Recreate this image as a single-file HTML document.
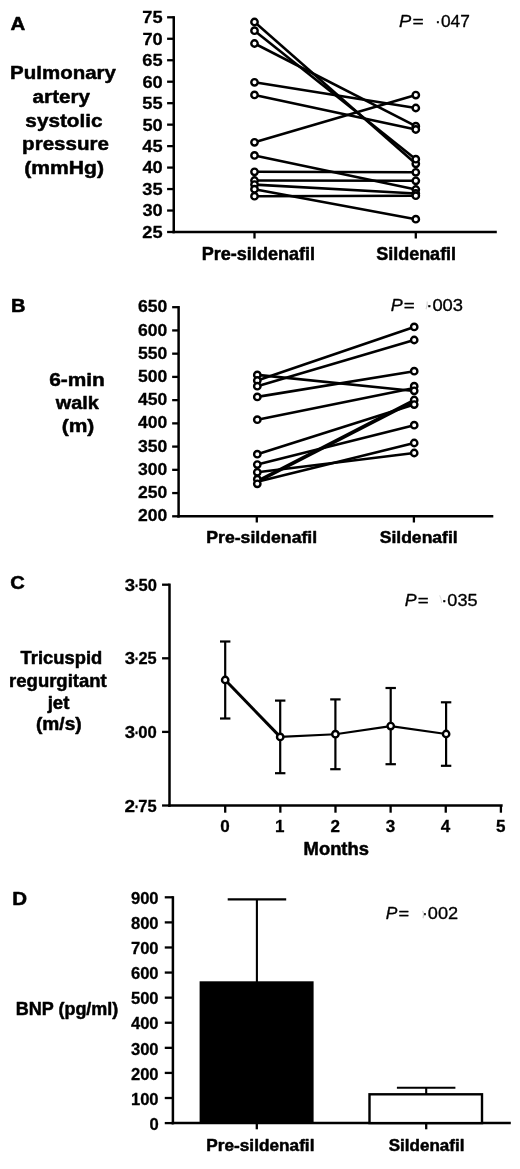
<!DOCTYPE html>
<html><head><meta charset="utf-8"><title>Figure</title>
<style>
html,body{margin:0;padding:0;background:#fff;}
body{width:520px;height:1169px;overflow:hidden;}
svg{display:block;font-family:"Liberation Sans",sans-serif;fill:#000;will-change:transform;filter:blur(0.4px);}
text{stroke:#000;stroke-width:0.5px;stroke-linejoin:round;}
text.r{stroke-width:0.3px;}
text.t{stroke-width:0.28px;}
</style></head><body>
<svg width="520" height="1169" viewBox="0 0 520 1169">
<rect width="520" height="1169" fill="#fff"/>
<line x1="173.75" y1="16.15" x2="173.75" y2="233.25" stroke="#000" stroke-width="2.5" />
<line x1="167.10" y1="17.30" x2="173.75" y2="17.30" stroke="#000" stroke-width="2.3" />
<text transform="translate(142.28,23.19) scale(1.0577,1)" font-size="17.26" font-weight="bold" font-style="normal"  class="t">75</text>
<line x1="167.10" y1="38.77" x2="173.75" y2="38.77" stroke="#000" stroke-width="2.3" />
<text transform="translate(142.46,44.66) scale(1.0577,1)" font-size="17.26" font-weight="bold" font-style="normal"  class="t">70</text>
<line x1="167.10" y1="60.24" x2="173.75" y2="60.24" stroke="#000" stroke-width="2.3" />
<text transform="translate(142.28,66.13) scale(1.0577,1)" font-size="17.26" font-weight="bold" font-style="normal"  class="t">65</text>
<line x1="167.10" y1="81.71" x2="173.75" y2="81.71" stroke="#000" stroke-width="2.3" />
<text transform="translate(142.46,87.60) scale(1.0577,1)" font-size="17.26" font-weight="bold" font-style="normal"  class="t">60</text>
<line x1="167.10" y1="103.18" x2="173.75" y2="103.18" stroke="#000" stroke-width="2.3" />
<text transform="translate(142.28,109.07) scale(1.0577,1)" font-size="17.26" font-weight="bold" font-style="normal"  class="t">55</text>
<line x1="167.10" y1="124.65" x2="173.75" y2="124.65" stroke="#000" stroke-width="2.3" />
<text transform="translate(142.46,130.54) scale(1.0577,1)" font-size="17.26" font-weight="bold" font-style="normal"  class="t">50</text>
<line x1="167.10" y1="146.12" x2="173.75" y2="146.12" stroke="#000" stroke-width="2.3" />
<text transform="translate(142.28,152.01) scale(1.0577,1)" font-size="17.26" font-weight="bold" font-style="normal"  class="t">45</text>
<line x1="167.10" y1="167.59" x2="173.75" y2="167.59" stroke="#000" stroke-width="2.3" />
<text transform="translate(142.46,173.48) scale(1.0577,1)" font-size="17.26" font-weight="bold" font-style="normal"  class="t">40</text>
<line x1="167.10" y1="189.06" x2="173.75" y2="189.06" stroke="#000" stroke-width="2.3" />
<text transform="translate(142.28,194.95) scale(1.0577,1)" font-size="17.26" font-weight="bold" font-style="normal"  class="t">35</text>
<line x1="167.10" y1="210.53" x2="173.75" y2="210.53" stroke="#000" stroke-width="2.3" />
<text transform="translate(142.46,216.42) scale(1.0577,1)" font-size="17.26" font-weight="bold" font-style="normal"  class="t">30</text>
<line x1="167.10" y1="232.00" x2="173.75" y2="232.00" stroke="#000" stroke-width="2.3" />
<text transform="translate(142.28,237.89) scale(1.0577,1)" font-size="17.26" font-weight="bold" font-style="normal"  class="t">25</text>
<line x1="172.50" y1="232.00" x2="496.80" y2="232.00" stroke="#000" stroke-width="2.5" />
<line x1="254.50" y1="232.00" x2="254.50" y2="238.50" stroke="#000" stroke-width="2.3" />
<line x1="415.80" y1="232.00" x2="415.80" y2="238.50" stroke="#000" stroke-width="2.3" />
<text transform="translate(201.63,260.00) scale(1.0225,1)" font-size="17.68" font-weight="bold" font-style="normal" >Pre-sildenafil</text>
<text transform="translate(376.16,260.00) scale(1.0178,1)" font-size="17.68" font-weight="bold" font-style="normal" >Sildenafil</text>
<line x1="254.50" y1="22.00" x2="415.80" y2="163.80" stroke="#000" stroke-width="2.6" />
<line x1="254.50" y1="30.70" x2="415.80" y2="159.20" stroke="#000" stroke-width="2.6" />
<line x1="254.50" y1="43.50" x2="415.80" y2="126.20" stroke="#000" stroke-width="2.6" />
<line x1="254.50" y1="82.30" x2="415.80" y2="108.00" stroke="#000" stroke-width="2.6" />
<line x1="254.50" y1="94.90" x2="415.80" y2="129.50" stroke="#000" stroke-width="2.6" />
<line x1="254.50" y1="142.30" x2="415.80" y2="95.10" stroke="#000" stroke-width="2.6" />
<line x1="254.50" y1="155.40" x2="415.80" y2="189.50" stroke="#000" stroke-width="2.6" />
<line x1="254.50" y1="171.80" x2="415.80" y2="172.30" stroke="#000" stroke-width="2.6" />
<line x1="254.50" y1="180.50" x2="415.80" y2="180.80" stroke="#000" stroke-width="2.6" />
<line x1="254.50" y1="184.60" x2="415.80" y2="193.50" stroke="#000" stroke-width="2.6" />
<line x1="254.50" y1="189.20" x2="415.80" y2="219.20" stroke="#000" stroke-width="2.6" />
<line x1="254.50" y1="196.20" x2="415.80" y2="195.70" stroke="#000" stroke-width="2.6" />
<circle cx="254.50" cy="22.00" r="3.2" fill="#fff" stroke="#000" stroke-width="2.4"/>
<circle cx="415.80" cy="163.80" r="3.2" fill="#fff" stroke="#000" stroke-width="2.4"/>
<circle cx="254.50" cy="30.70" r="3.2" fill="#fff" stroke="#000" stroke-width="2.4"/>
<circle cx="415.80" cy="159.20" r="3.2" fill="#fff" stroke="#000" stroke-width="2.4"/>
<circle cx="254.50" cy="43.50" r="3.2" fill="#fff" stroke="#000" stroke-width="2.4"/>
<circle cx="415.80" cy="126.20" r="3.2" fill="#fff" stroke="#000" stroke-width="2.4"/>
<circle cx="254.50" cy="82.30" r="3.2" fill="#fff" stroke="#000" stroke-width="2.4"/>
<circle cx="415.80" cy="108.00" r="3.2" fill="#fff" stroke="#000" stroke-width="2.4"/>
<circle cx="254.50" cy="94.90" r="3.2" fill="#fff" stroke="#000" stroke-width="2.4"/>
<circle cx="415.80" cy="129.50" r="3.2" fill="#fff" stroke="#000" stroke-width="2.4"/>
<circle cx="254.50" cy="142.30" r="3.2" fill="#fff" stroke="#000" stroke-width="2.4"/>
<circle cx="415.80" cy="95.10" r="3.2" fill="#fff" stroke="#000" stroke-width="2.4"/>
<circle cx="254.50" cy="155.40" r="3.2" fill="#fff" stroke="#000" stroke-width="2.4"/>
<circle cx="415.80" cy="189.50" r="3.2" fill="#fff" stroke="#000" stroke-width="2.4"/>
<circle cx="254.50" cy="171.80" r="3.2" fill="#fff" stroke="#000" stroke-width="2.4"/>
<circle cx="415.80" cy="172.30" r="3.2" fill="#fff" stroke="#000" stroke-width="2.4"/>
<circle cx="254.50" cy="180.50" r="3.2" fill="#fff" stroke="#000" stroke-width="2.4"/>
<circle cx="415.80" cy="180.80" r="3.2" fill="#fff" stroke="#000" stroke-width="2.4"/>
<circle cx="254.50" cy="184.60" r="3.2" fill="#fff" stroke="#000" stroke-width="2.4"/>
<circle cx="415.80" cy="193.50" r="3.2" fill="#fff" stroke="#000" stroke-width="2.4"/>
<circle cx="254.50" cy="189.20" r="3.2" fill="#fff" stroke="#000" stroke-width="2.4"/>
<circle cx="415.80" cy="219.20" r="3.2" fill="#fff" stroke="#000" stroke-width="2.4"/>
<circle cx="254.50" cy="196.20" r="3.2" fill="#fff" stroke="#000" stroke-width="2.4"/>
<circle cx="415.80" cy="195.70" r="3.2" fill="#fff" stroke="#000" stroke-width="2.4"/>
<text transform="translate(10.39,29.50) scale(1.1303,1)" font-size="18.1" font-weight="bold" font-style="normal" >A</text>
<text transform="translate(10.07,79.20) scale(1.0708,1)" font-size="19.14" font-weight="bold" font-style="normal" >Pulmonary</text>
<text transform="translate(32.58,103.00) scale(1.0814,1)" font-size="19.14" font-weight="bold" font-style="normal" >artery</text>
<text transform="translate(25.37,127.00) scale(1.0838,1)" font-size="19.14" font-weight="bold" font-style="normal" >systolic</text>
<text transform="translate(22.06,150.30) scale(1.0769,1)" font-size="19.14" font-weight="bold" font-style="normal" >pressure</text>
<text transform="translate(24.24,173.80) scale(1.1048,1)" font-size="19.14" font-weight="bold" font-style="normal" >(mmHg)</text>
<text transform="translate(399.05,26.50) scale(1.1752,1)" font-size="15.6" font-weight="normal" font-style="italic"  class="r">P</text>
<text transform="translate(412.50,26.50) scale(1.2340,1)" font-size="15.6" font-weight="normal" font-style="normal"  class="r">=</text>
<text transform="translate(435.12,26.50) scale(1.1104,1)" font-size="15.6" font-weight="normal" font-style="normal"  class="r">·047</text>
<line x1="178.60" y1="306.05" x2="178.60" y2="517.55" stroke="#000" stroke-width="2.5" />
<line x1="172.15" y1="307.20" x2="178.60" y2="307.20" stroke="#000" stroke-width="2.3" />
<text transform="translate(137.99,312.29) scale(1.0356,1)" font-size="16.95" font-weight="bold" font-style="normal"  class="t">650</text>
<line x1="172.15" y1="330.43" x2="178.60" y2="330.43" stroke="#000" stroke-width="2.3" />
<text transform="translate(137.99,335.52) scale(1.0356,1)" font-size="16.95" font-weight="bold" font-style="normal"  class="t">600</text>
<line x1="172.15" y1="353.67" x2="178.60" y2="353.67" stroke="#000" stroke-width="2.3" />
<text transform="translate(137.99,358.75) scale(1.0356,1)" font-size="16.95" font-weight="bold" font-style="normal"  class="t">550</text>
<line x1="172.15" y1="376.90" x2="178.60" y2="376.90" stroke="#000" stroke-width="2.3" />
<text transform="translate(137.99,381.99) scale(1.0356,1)" font-size="16.95" font-weight="bold" font-style="normal"  class="t">500</text>
<line x1="172.15" y1="400.13" x2="178.60" y2="400.13" stroke="#000" stroke-width="2.3" />
<text transform="translate(137.99,405.22) scale(1.0356,1)" font-size="16.95" font-weight="bold" font-style="normal"  class="t">450</text>
<line x1="172.15" y1="423.37" x2="178.60" y2="423.37" stroke="#000" stroke-width="2.3" />
<text transform="translate(137.99,428.45) scale(1.0356,1)" font-size="16.95" font-weight="bold" font-style="normal"  class="t">400</text>
<line x1="172.15" y1="446.60" x2="178.60" y2="446.60" stroke="#000" stroke-width="2.3" />
<text transform="translate(137.99,451.69) scale(1.0356,1)" font-size="16.95" font-weight="bold" font-style="normal"  class="t">350</text>
<line x1="172.15" y1="469.83" x2="178.60" y2="469.83" stroke="#000" stroke-width="2.3" />
<text transform="translate(137.99,474.92) scale(1.0356,1)" font-size="16.95" font-weight="bold" font-style="normal"  class="t">300</text>
<line x1="172.15" y1="493.07" x2="178.60" y2="493.07" stroke="#000" stroke-width="2.3" />
<text transform="translate(137.99,498.15) scale(1.0356,1)" font-size="16.95" font-weight="bold" font-style="normal"  class="t">250</text>
<line x1="172.15" y1="516.30" x2="178.60" y2="516.30" stroke="#000" stroke-width="2.3" />
<text transform="translate(137.99,521.39) scale(1.0356,1)" font-size="16.95" font-weight="bold" font-style="normal"  class="t">200</text>
<line x1="177.35" y1="516.30" x2="493.30" y2="516.30" stroke="#000" stroke-width="2.5" />
<line x1="256.80" y1="516.30" x2="256.80" y2="522.50" stroke="#000" stroke-width="2.3" />
<line x1="413.90" y1="516.30" x2="413.90" y2="522.50" stroke="#000" stroke-width="2.3" />
<text transform="translate(206.26,542.70) scale(1.0298,1)" font-size="17.16" font-weight="bold" font-style="normal" >Pre-sildenafil</text>
<text transform="translate(379.67,542.70) scale(1.0232,1)" font-size="17.16" font-weight="bold" font-style="normal" >Sildenafil</text>
<line x1="257.30" y1="374.90" x2="414.20" y2="391.00" stroke="#000" stroke-width="2.6" />
<line x1="257.30" y1="380.50" x2="414.20" y2="326.90" stroke="#000" stroke-width="2.6" />
<line x1="257.30" y1="386.20" x2="414.20" y2="340.00" stroke="#000" stroke-width="2.6" />
<line x1="257.30" y1="396.90" x2="414.20" y2="371.20" stroke="#000" stroke-width="2.6" />
<line x1="257.30" y1="419.70" x2="414.20" y2="388.00" stroke="#000" stroke-width="2.6" />
<line x1="257.30" y1="454.20" x2="414.20" y2="404.60" stroke="#000" stroke-width="2.6" />
<line x1="257.30" y1="464.60" x2="414.20" y2="425.20" stroke="#000" stroke-width="2.6" />
<line x1="257.30" y1="472.30" x2="414.20" y2="453.00" stroke="#000" stroke-width="2.6" />
<line x1="257.30" y1="480.90" x2="414.20" y2="399.90" stroke="#000" stroke-width="2.6" />
<line x1="257.30" y1="482.10" x2="414.20" y2="401.30" stroke="#000" stroke-width="2.6" />
<line x1="257.30" y1="481.80" x2="414.20" y2="443.00" stroke="#000" stroke-width="2.6" />
<circle cx="257.30" cy="374.90" r="3.2" fill="#fff" stroke="#000" stroke-width="2.4"/>
<circle cx="257.30" cy="380.50" r="3.2" fill="#fff" stroke="#000" stroke-width="2.4"/>
<circle cx="257.30" cy="386.20" r="3.2" fill="#fff" stroke="#000" stroke-width="2.4"/>
<circle cx="257.30" cy="396.90" r="3.2" fill="#fff" stroke="#000" stroke-width="2.4"/>
<circle cx="257.30" cy="419.70" r="3.2" fill="#fff" stroke="#000" stroke-width="2.4"/>
<circle cx="257.30" cy="454.20" r="3.2" fill="#fff" stroke="#000" stroke-width="2.4"/>
<circle cx="257.30" cy="464.60" r="3.2" fill="#fff" stroke="#000" stroke-width="2.4"/>
<circle cx="257.30" cy="472.30" r="3.2" fill="#fff" stroke="#000" stroke-width="2.4"/>
<circle cx="257.30" cy="479.20" r="3.2" fill="#fff" stroke="#000" stroke-width="2.4"/>
<circle cx="257.30" cy="483.80" r="3.2" fill="#fff" stroke="#000" stroke-width="2.4"/>
<circle cx="414.20" cy="326.90" r="3.2" fill="#fff" stroke="#000" stroke-width="2.4"/>
<circle cx="414.20" cy="340.00" r="3.2" fill="#fff" stroke="#000" stroke-width="2.4"/>
<circle cx="414.20" cy="371.20" r="3.2" fill="#fff" stroke="#000" stroke-width="2.4"/>
<circle cx="414.20" cy="386.20" r="3.2" fill="#fff" stroke="#000" stroke-width="2.4"/>
<circle cx="414.20" cy="390.80" r="3.2" fill="#fff" stroke="#000" stroke-width="2.4"/>
<circle cx="414.20" cy="400.00" r="3.2" fill="#fff" stroke="#000" stroke-width="2.4"/>
<circle cx="414.20" cy="404.60" r="3.2" fill="#fff" stroke="#000" stroke-width="2.4"/>
<circle cx="414.20" cy="425.20" r="3.2" fill="#fff" stroke="#000" stroke-width="2.4"/>
<circle cx="414.20" cy="443.00" r="3.2" fill="#fff" stroke="#000" stroke-width="2.4"/>
<circle cx="414.20" cy="453.00" r="3.2" fill="#fff" stroke="#000" stroke-width="2.4"/>
<text transform="translate(11.00,312.30) scale(1.1052,1)" font-size="18.1" font-weight="bold" font-style="normal" >B</text>
<text transform="translate(49.16,386.20) scale(1.0921,1)" font-size="19.14" font-weight="bold" font-style="normal" >6-min</text>
<text transform="translate(55.80,409.30) scale(1.0379,1)" font-size="19.14" font-weight="bold" font-style="normal" >walk</text>
<text transform="translate(61.65,431.90) scale(1.0988,1)" font-size="19.14" font-weight="bold" font-style="normal" >(m)</text>
<text transform="translate(390.66,311.20) scale(1.1498,1)" font-size="15.6" font-weight="normal" font-style="italic"  class="r">P</text>
<text transform="translate(403.82,311.20) scale(1.2073,1)" font-size="15.6" font-weight="normal" font-style="normal"  class="r">=</text>
<text transform="translate(426.30,311.20) scale(1.1775,1)" font-size="15.6" font-weight="normal" font-style="normal"  class="r">·003</text>
<line x1="169.50" y1="583.55" x2="169.50" y2="806.75" stroke="#000" stroke-width="2.5" />
<line x1="162.05" y1="584.70" x2="169.50" y2="584.70" stroke="#000" stroke-width="2.3" />
<text transform="translate(124.73,590.80) scale(1.1464,1)" font-size="16.22" font-weight="bold" font-style="normal"  class="t">3</text>
<text transform="translate(134.80,590.80) scale(0.7925,1)" font-size="16.22" font-weight="bold" font-style="normal"  class="t">·</text>
<text transform="translate(138.50,590.80) scale(1.0194,1)" font-size="16.22" font-weight="bold" font-style="normal"  class="t">50</text>
<line x1="162.05" y1="658.30" x2="169.50" y2="658.30" stroke="#000" stroke-width="2.3" />
<text transform="translate(124.73,664.40) scale(1.1464,1)" font-size="16.22" font-weight="bold" font-style="normal"  class="t">3</text>
<text transform="translate(134.80,664.40) scale(0.7925,1)" font-size="16.22" font-weight="bold" font-style="normal"  class="t">·</text>
<text transform="translate(138.51,664.40) scale(1.0097,1)" font-size="16.22" font-weight="bold" font-style="normal"  class="t">25</text>
<line x1="162.05" y1="731.90" x2="169.50" y2="731.90" stroke="#000" stroke-width="2.3" />
<text transform="translate(124.73,738.00) scale(1.1464,1)" font-size="16.22" font-weight="bold" font-style="normal"  class="t">3</text>
<text transform="translate(134.80,738.00) scale(0.7925,1)" font-size="16.22" font-weight="bold" font-style="normal"  class="t">·</text>
<text transform="translate(138.33,738.00) scale(1.0293,1)" font-size="16.22" font-weight="bold" font-style="normal"  class="t">00</text>
<line x1="162.05" y1="805.50" x2="169.50" y2="805.50" stroke="#000" stroke-width="2.3" />
<text transform="translate(124.53,811.60) scale(1.1698,1)" font-size="16.22" font-weight="bold" font-style="normal"  class="t">2</text>
<text transform="translate(134.80,811.60) scale(0.7925,1)" font-size="16.22" font-weight="bold" font-style="normal"  class="t">·</text>
<text transform="translate(138.34,811.60) scale(1.0194,1)" font-size="16.22" font-weight="bold" font-style="normal"  class="t">75</text>
<line x1="168.25" y1="805.50" x2="502.65" y2="805.50" stroke="#000" stroke-width="2.5" />
<line x1="225.20" y1="805.50" x2="225.20" y2="812.70" stroke="#000" stroke-width="2.3" />
<text transform="translate(220.31,832.00) scale(1.0385,1)" font-size="16.43" font-weight="bold" font-style="normal"  class="t">0</text>
<line x1="280.34" y1="805.50" x2="280.34" y2="812.70" stroke="#000" stroke-width="2.3" />
<text transform="translate(275.11,832.00) scale(1.0385,1)" font-size="16.43" font-weight="bold" font-style="normal"  class="t">1</text>
<line x1="335.48" y1="805.50" x2="335.48" y2="812.70" stroke="#000" stroke-width="2.3" />
<text transform="translate(330.59,832.00) scale(1.0385,1)" font-size="16.43" font-weight="bold" font-style="normal"  class="t">2</text>
<line x1="390.62" y1="805.50" x2="390.62" y2="812.70" stroke="#000" stroke-width="2.3" />
<text transform="translate(385.81,832.00) scale(1.0385,1)" font-size="16.43" font-weight="bold" font-style="normal"  class="t">3</text>
<line x1="445.76" y1="805.50" x2="445.76" y2="812.70" stroke="#000" stroke-width="2.3" />
<text transform="translate(440.70,832.00) scale(1.0385,1)" font-size="16.43" font-weight="bold" font-style="normal"  class="t">4</text>
<line x1="500.90" y1="805.50" x2="500.90" y2="812.70" stroke="#000" stroke-width="2.3" />
<text transform="translate(495.92,832.00) scale(1.0385,1)" font-size="16.43" font-weight="bold" font-style="normal"  class="t">5</text>
<text transform="translate(303.61,855.10) scale(1.0287,1)" font-size="17.89" font-weight="bold" font-style="normal" >Months</text>
<line x1="225.20" y1="641.50" x2="225.20" y2="718.50" stroke="#000" stroke-width="2.2" />
<line x1="220.00" y1="641.50" x2="230.40" y2="641.50" stroke="#000" stroke-width="2.2" />
<line x1="220.00" y1="718.50" x2="230.40" y2="718.50" stroke="#000" stroke-width="2.2" />
<line x1="280.20" y1="700.60" x2="280.20" y2="773.20" stroke="#000" stroke-width="2.2" />
<line x1="275.00" y1="700.60" x2="285.40" y2="700.60" stroke="#000" stroke-width="2.2" />
<line x1="275.00" y1="773.20" x2="285.40" y2="773.20" stroke="#000" stroke-width="2.2" />
<line x1="335.40" y1="699.40" x2="335.40" y2="769.20" stroke="#000" stroke-width="2.2" />
<line x1="330.20" y1="699.40" x2="340.60" y2="699.40" stroke="#000" stroke-width="2.2" />
<line x1="330.20" y1="769.20" x2="340.60" y2="769.20" stroke="#000" stroke-width="2.2" />
<line x1="390.70" y1="688.00" x2="390.70" y2="764.20" stroke="#000" stroke-width="2.2" />
<line x1="385.50" y1="688.00" x2="395.90" y2="688.00" stroke="#000" stroke-width="2.2" />
<line x1="385.50" y1="764.20" x2="395.90" y2="764.20" stroke="#000" stroke-width="2.2" />
<line x1="446.10" y1="702.30" x2="446.10" y2="765.80" stroke="#000" stroke-width="2.2" />
<line x1="440.90" y1="702.30" x2="451.30" y2="702.30" stroke="#000" stroke-width="2.2" />
<line x1="440.90" y1="765.80" x2="451.30" y2="765.80" stroke="#000" stroke-width="2.2" />
<line x1="225.20" y1="680.00" x2="280.20" y2="736.90" stroke="#000" stroke-width="3.0" />
<line x1="280.20" y1="736.90" x2="335.40" y2="734.20" stroke="#000" stroke-width="2.1" />
<line x1="335.40" y1="734.20" x2="390.70" y2="726.10" stroke="#000" stroke-width="2.1" />
<line x1="390.70" y1="726.10" x2="446.10" y2="734.00" stroke="#000" stroke-width="2.1" />
<circle cx="225.20" cy="680.00" r="3.2" fill="#fff" stroke="#000" stroke-width="2.4"/>
<circle cx="280.20" cy="736.90" r="3.2" fill="#fff" stroke="#000" stroke-width="2.4"/>
<circle cx="335.40" cy="734.20" r="3.2" fill="#fff" stroke="#000" stroke-width="2.4"/>
<circle cx="390.70" cy="726.10" r="3.2" fill="#fff" stroke="#000" stroke-width="2.4"/>
<circle cx="446.10" cy="734.00" r="3.2" fill="#fff" stroke="#000" stroke-width="2.4"/>
<text transform="translate(10.29,589.20) scale(1.1137,1)" font-size="18.1" font-weight="bold" font-style="normal" >C</text>
<text transform="translate(20.62,663.90) scale(1.0517,1)" font-size="17.47" font-weight="bold" font-style="normal" >Tricuspid</text>
<text transform="translate(9.11,687.00) scale(1.0588,1)" font-size="17.47" font-weight="bold" font-style="normal" >regurgitant</text>
<text transform="translate(47.67,709.20) scale(1.0622,1)" font-size="17.47" font-weight="bold" font-style="normal" >jet</text>
<text transform="translate(35.94,729.90) scale(1.0972,1)" font-size="17.47" font-weight="bold" font-style="normal" >(m/s)</text>
<text transform="translate(404.77,605.80) scale(1.1396,1)" font-size="15.6" font-weight="normal" font-style="italic"  class="r">P</text>
<text transform="translate(417.81,605.80) scale(1.1966,1)" font-size="15.6" font-weight="normal" font-style="normal"  class="r">=</text>
<text transform="translate(441.33,605.80) scale(1.1601,1)" font-size="15.6" font-weight="normal" font-style="normal"  class="r">·035</text>
<line x1="172.90" y1="896.15" x2="172.90" y2="1124.35" stroke="#000" stroke-width="2.5" />
<line x1="164.75" y1="897.30" x2="172.90" y2="897.30" stroke="#000" stroke-width="2.3" />
<text transform="translate(130.88,903.98) scale(1.0000,1)" font-size="16.64" font-weight="bold" font-style="normal"  class="t">900</text>
<line x1="164.75" y1="922.39" x2="172.90" y2="922.39" stroke="#000" stroke-width="2.3" />
<text transform="translate(130.88,929.07) scale(1.0000,1)" font-size="16.64" font-weight="bold" font-style="normal"  class="t">800</text>
<line x1="164.75" y1="947.48" x2="172.90" y2="947.48" stroke="#000" stroke-width="2.3" />
<text transform="translate(130.88,954.16) scale(1.0000,1)" font-size="16.64" font-weight="bold" font-style="normal"  class="t">700</text>
<line x1="164.75" y1="972.57" x2="172.90" y2="972.57" stroke="#000" stroke-width="2.3" />
<text transform="translate(130.88,979.25) scale(1.0000,1)" font-size="16.64" font-weight="bold" font-style="normal"  class="t">600</text>
<line x1="164.75" y1="997.66" x2="172.90" y2="997.66" stroke="#000" stroke-width="2.3" />
<text transform="translate(130.88,1004.34) scale(1.0000,1)" font-size="16.64" font-weight="bold" font-style="normal"  class="t">500</text>
<line x1="164.75" y1="1022.74" x2="172.90" y2="1022.74" stroke="#000" stroke-width="2.3" />
<text transform="translate(130.88,1029.42) scale(1.0000,1)" font-size="16.64" font-weight="bold" font-style="normal"  class="t">400</text>
<line x1="164.75" y1="1047.83" x2="172.90" y2="1047.83" stroke="#000" stroke-width="2.3" />
<text transform="translate(130.88,1054.51) scale(1.0000,1)" font-size="16.64" font-weight="bold" font-style="normal"  class="t">300</text>
<line x1="164.75" y1="1072.92" x2="172.90" y2="1072.92" stroke="#000" stroke-width="2.3" />
<text transform="translate(130.88,1079.60) scale(1.0000,1)" font-size="16.64" font-weight="bold" font-style="normal"  class="t">200</text>
<line x1="164.75" y1="1098.01" x2="172.90" y2="1098.01" stroke="#000" stroke-width="2.3" />
<text transform="translate(130.88,1104.69) scale(1.0000,1)" font-size="16.64" font-weight="bold" font-style="normal"  class="t">100</text>
<line x1="164.75" y1="1123.10" x2="172.90" y2="1123.10" stroke="#000" stroke-width="2.3" />
<text transform="translate(149.51,1129.78) scale(1.0000,1)" font-size="16.64" font-weight="bold" font-style="normal"  class="t">0</text>
<line x1="171.65" y1="1123.10" x2="510.80" y2="1123.10" stroke="#000" stroke-width="2.5" />
<rect x="199.6" y="981.3" width="114.0" height="141.8" fill="#000"/>
<line x1="256.90" y1="899.40" x2="256.90" y2="983.00" stroke="#000" stroke-width="2.1" />
<line x1="227.70" y1="899.40" x2="286.20" y2="899.40" stroke="#000" stroke-width="2.1" />
<rect x="369.5" y="1094.3" width="112.5" height="28.8" fill="#fff" stroke="#000" stroke-width="2.4"/>
<line x1="426.20" y1="1087.80" x2="426.20" y2="1094.00" stroke="#000" stroke-width="2.1" />
<line x1="396.90" y1="1087.80" x2="455.40" y2="1087.80" stroke="#000" stroke-width="2.1" />
<line x1="256.80" y1="1123.10" x2="256.80" y2="1129.30" stroke="#000" stroke-width="2.3" />
<line x1="426.20" y1="1123.10" x2="426.20" y2="1129.30" stroke="#000" stroke-width="2.3" />
<text transform="translate(206.29,1150.50) scale(1.0227,1)" font-size="16.85" font-weight="bold" font-style="normal" >Pre-sildenafil</text>
<text transform="translate(388.69,1150.50) scale(1.0107,1)" font-size="16.85" font-weight="bold" font-style="normal" >Sildenafil</text>
<text transform="translate(12.32,904.60) scale(1.1324,1)" font-size="18.1" font-weight="bold" font-style="normal" >D</text>
<text transform="translate(15.74,1015.00) scale(1.0187,1)" font-size="17.68" font-weight="bold" font-style="normal" >BNP (pg/ml)</text>
<text transform="translate(385.68,919.20) scale(1.1142,1)" font-size="15.6" font-weight="normal" font-style="italic"  class="r">P</text>
<text transform="translate(398.43,919.20) scale(1.1699,1)" font-size="15.6" font-weight="normal" font-style="normal"  class="r">=</text>
<text transform="translate(421.72,919.20) scale(1.1665,1)" font-size="15.6" font-weight="normal" font-style="normal"  class="r">·002</text>
<path d="M427.2 301.5 Q427.6 305.5 426 309.3" fill="none" stroke="#d4d4d4" stroke-width="1.1"/>
<path d="M439.6 595.2 Q441.4 598 441.6 603" fill="none" stroke="#dcdcdc" stroke-width="1.1"/>
<path d="M422.6 910.8 Q424.6 914.5 423 918.2" fill="none" stroke="#cfcfcf" stroke-width="1.1"/>
</svg>
</body></html>
